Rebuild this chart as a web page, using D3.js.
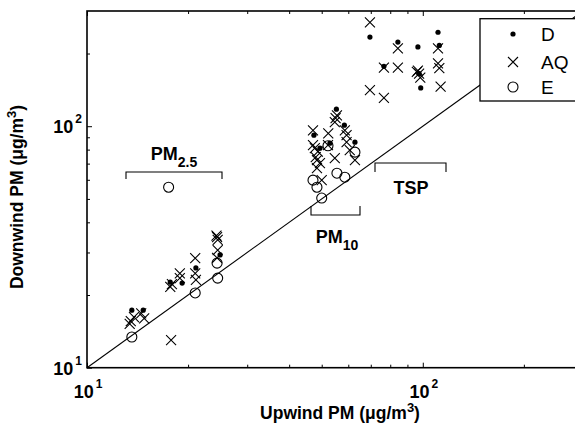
<!DOCTYPE html>
<html><head><meta charset="utf-8">
<script src="https://cdn.jsdelivr.net/npm/d3@7"></script>
<style>body{margin:0;background:#fff}</style>
</head><body>
<svg id="chart" width="575" height="425"></svg>
<script>
// ---- data ----
const dX = [13.6,14.7,17.7,19.2,21.1,24.9, 55.3,58.4,47.4,49.4,52.9,62.8, 69.6,76.6,84.3,96.7,98.6,111,112,97.5];
const dY = [17.3,17.3,22.6,22.4,25.9,29.3, 117.6,101,91.8,81.1,85.1,85.9, 234,177,223,213,144,245,216,165];
const aqX = [13.5,13.8,14.5,14.8,13.4,17.8, 17.7,17.9,18.9,18.9,21.0,21.0,21.1,24.4,24.5,24.3,24.5,24.4,
             55.5,54.7,55.0,58.6,59.3,47.1,47.1,47.7,48.7,52.3,52.2,48.4,49.4,48.4,54.7,59.3,60.6,62.8,50.0,48.0,
             69.6,76.6,76.6,69.6,84.3,84.3,96.7,97.5,98.3,96.0,111,111,112,113];
const aqY = [15.6,16.2,16.8,16.0,15.2,13.0, 21.6,22.2,24.6,23.5,28.4,24.6,23.1,34.7,33.8,35.2,30.7,28.5,
             111,103.9,108,96.2,91.8,96.2,83.5,81.1,78.5,93.5,83.5,72.3,70.3,67,73.7,85.9,79.6,72.3,59.8,74.5,
             269,175,131,141,210,175,170,165,159,168,210,182,174,146];
const eX = [13.6,21.0,24.4,24.5,17.5, 47.1,48.4,55.5,58.6,50.0,62.8,52.2];
const eY = [13.4,20.4,27.1,23.5,55.9, 59.8,55.9,63.9,61.5,50.4,78.1,83.0];
const legendLabels = ["D","AQ","E"];
const majorTicks = [10,100];
const minorTicks = [20,30,40,50,60,70,80,90,200];
const domain = [10,300];

const svg = d3.select("#chart");
const font = "'Liberation Sans', Arial, Helvetica, sans-serif";
const L = 87, T = 11, R = 583, B = 367.7;
const x = d3.scaleLog().domain(domain).range([L, R]);
const y = d3.scaleLog().domain(domain).range([B, T]);

const plot = svg.append("g");
plot.append("line").attr("x1", x(10)).attr("y1", y(10)).attr("x2", x(300)).attr("y2", y(300))
  .attr("stroke","#000").attr("stroke-width",1.1);

function ticks(axisFn, scale, vals, size, transform) {
  svg.append("g").attr("transform", transform)
    .call(axisFn(scale).tickValues(vals).tickSize(size).tickFormat(""))
    .call(g => g.select(".domain").remove())
    .call(g => g.selectAll("line").attr("stroke","#000").attr("stroke-width",1));
}
ticks(d3.axisBottom, x, minorTicks, -3, `translate(0,${B})`);
ticks(d3.axisBottom, x, majorTicks, -5, `translate(0,${B})`);
ticks(d3.axisTop, x, minorTicks, -3, `translate(0,${T})`);
ticks(d3.axisTop, x, majorTicks, -5, `translate(0,${T})`);
ticks(d3.axisLeft, y, minorTicks, -3, `translate(${L},0)`);
ticks(d3.axisLeft, y, majorTicks, -5, `translate(${L},0)`);
ticks(d3.axisRight, y, minorTicks, -3, `translate(${R},0)`);
ticks(d3.axisRight, y, majorTicks, -5, `translate(${R},0)`);

svg.append("rect").attr("x",L).attr("y",T).attr("width",R-L).attr("height",B-T)
  .attr("fill","none").attr("stroke","#000").attr("stroke-width",1.6);

const cs = 5;
plot.selectAll("path.aq").data(aqX.map((v,i)=>[v,aqY[i]])).join("path").attr("class","aq")
  .attr("d", d => `M${x(d[0])-cs},${y(d[1])-cs}L${x(d[0])+cs},${y(d[1])+cs}M${x(d[0])-cs},${y(d[1])+cs}L${x(d[0])+cs},${y(d[1])-cs}`)
  .attr("stroke","#000").attr("stroke-width",1.1).attr("fill","none");
plot.selectAll("circle.d").data(dX.map((v,i)=>[v,dY[i]])).join("circle").attr("class","d")
  .attr("cx", d=>x(d[0])).attr("cy", d=>y(d[1])).attr("r",2.6).attr("fill","#000");
plot.selectAll("circle.e").data(eX.map((v,i)=>[v,eY[i]])).join("circle").attr("class","e")
  .attr("cx", d=>x(d[0])).attr("cy", d=>y(d[1])).attr("r",5).attr("fill","none")
  .attr("stroke","#000").attr("stroke-width",1.1);

function powLabel(px, py, exp, anchor) {
  const t = svg.append("text").attr("x",px).attr("y",py).attr("text-anchor",anchor)
    .attr("font-family",font).attr("font-weight","bold").attr("font-size",18).attr("fill","#000");
  t.append("tspan").text("10");
  t.append("tspan").attr("dy",-10).attr("font-size",12).attr("dx",2).text(exp);
}
majorTicks.forEach((v,i) => {
  powLabel(x(v)+1, B+30, String(i+1), "middle");
  powLabel(L-5, y(v)+7, String(i+1), "end");
});

const xt = svg.append("text").attr("x",340).attr("y",419).attr("text-anchor","middle")
  .attr("font-family",font).attr("font-weight","bold").attr("font-size",17.5);
xt.append("tspan").text("Upwind PM (\u03bcg/m");
xt.append("tspan").attr("dy",-7).attr("font-size",13).text("3");
xt.append("tspan").attr("dy",7).text(")");
const yt = svg.append("text").attr("transform",`translate(23,197) rotate(-90)`).attr("text-anchor","middle")
  .attr("font-family",font).attr("font-weight","bold").attr("font-size",17.5);
yt.append("tspan").text("Downwind PM (\u03bcg/m");
yt.append("tspan").attr("dy",-7).attr("font-size",13).text("3");
yt.append("tspan").attr("dy",7).text(")");

function bracket(x1, x2, yLine, tickDy) {
  svg.append("path").attr("d",`M${x1},${yLine+tickDy}V${yLine}H${x2}V${yLine+tickDy}`)
    .attr("fill","none").attr("stroke","#000").attr("stroke-width",1.1);
}
bracket(126, 222, 172, 7);
bracket(311, 360, 215, -9);
bracket(375, 446, 163, 9);
function groupLabel(px, py, main, sub) {
  const t = svg.append("text").attr("x",px).attr("y",py).attr("text-anchor","middle")
    .attr("font-family",font).attr("font-weight","bold").attr("font-size",18);
  t.append("tspan").text(main);
  if (sub) t.append("tspan").attr("dy",7).attr("font-size",14).text(sub);
}
groupLabel(174, 160, "PM", "2.5");
groupLabel(337, 243, "PM", "10");
groupLabel(411, 194, "TSP", null);

const lg = svg.append("g");
lg.append("rect").attr("x",480).attr("y",18.7).attr("width",120).attr("height",82.3)
  .attr("fill","#fff").attr("stroke","#000").attr("stroke-width",1.3);
const ly = [34, 62, 87];
lg.append("circle").attr("cx",513).attr("cy",ly[0]).attr("r",2.6).attr("fill","#000");
lg.append("path").attr("d",`M${513-cs},${ly[1]-cs}L${513+cs},${ly[1]+cs}M${513-cs},${ly[1]+cs}L${513+cs},${ly[1]-cs}`)
  .attr("stroke","#000").attr("stroke-width",1.1);
lg.append("circle").attr("cx",513).attr("cy",ly[2]).attr("r",5).attr("fill","none").attr("stroke","#000").attr("stroke-width",1.1);
legendLabels.forEach((s,i) => {
  lg.append("text").attr("x",541).attr("y",ly[i]+7).attr("font-family",font).attr("font-size",19).text(s);
});
</script>
</body></html>
